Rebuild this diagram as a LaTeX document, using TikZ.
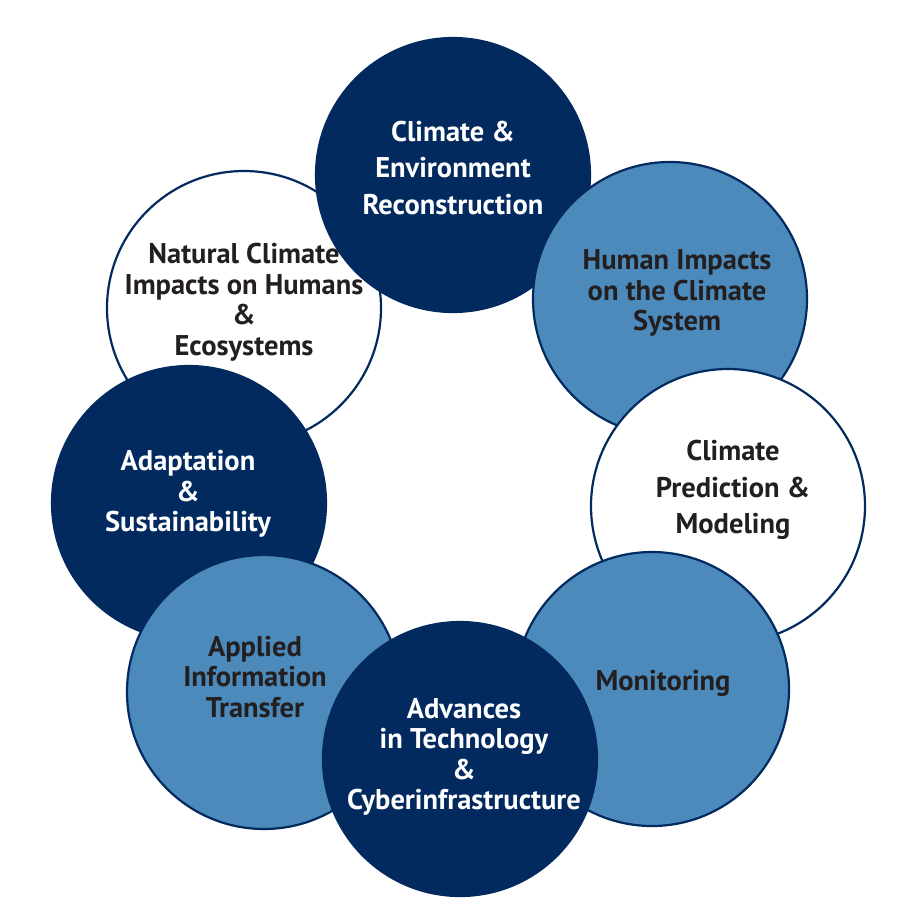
\documentclass[tikz,border=0pt]{standalone}
\usepackage{fontspec}
\setmainfont{PT Sans}
\definecolor{navy}{HTML}{022A5E}
\definecolor{midblue}{HTML}{4B8ABB}
\definecolor{ink}{HTML}{231F20}
\begin{document}
\begin{tikzpicture}[x=1pt,y=-1pt,
  disc/.style={circle,draw=navy,line width=2.2pt,minimum size=274pt,inner sep=0pt},
  darkdisc/.style={disc,fill=navy},
  bluedisc/.style={disc,fill=midblue},
  whitedisc/.style={disc,fill=white},
  lbl/.style={align=center,inner sep=0pt,font=\bfseries\fontsize{28.5}{30.5}\selectfont},
  widelbl/.style={font=\bfseries\fontsize{28.5}{36.8}\selectfont},
  darklbl/.style={lbl,text=white},
  lightlbl/.style={lbl,text=ink}]
\useasboundingbox (0,0) rectangle (923,919);
% discs, bottom to top
\node[whitedisc] (c8) at (244,308) {};
\node[darkdisc]  (c1) at (453,175) {};
\node[bluedisc]  (c2) at (670,299) {};
\node[whitedisc] (c3) at (728,506) {};
\node[bluedisc]  (c4) at (652,689) {};
\node[darkdisc]  (c7) at (189,503) {};
\node[bluedisc]  (c6) at (264,692) {};
\node[darkdisc]  (c5) at (460,759) {};
% labels
\node[lightlbl] (t8) at (244,302) {Natural Climate\\Impacts on Humans\\\&\\Ecosystems};
\node[darklbl,widelbl] (t1) at (453,168) {Climate \&\\Environment\\Reconstruction};
\node[lightlbl] (t2) at (677,293) {Human Impacts\\on the Climate\\System};
\node[lightlbl,widelbl] (t3) at (733,490) {Climate\\Prediction \&\\Modeling};
\node[lightlbl] (t4) at (663,683) {Monitoring};
\node[darklbl]  (t7) at (188,494) {Adaptation\\\&\\Sustainability};
\node[lightlbl] (t6) at (255,677) {Applied\\Information\\Transfer};
\node[darklbl]  (t5) at (464,757) {Advances\\in Technology\\\&\\Cyberinfrastructure};
\end{tikzpicture}
\end{document}
